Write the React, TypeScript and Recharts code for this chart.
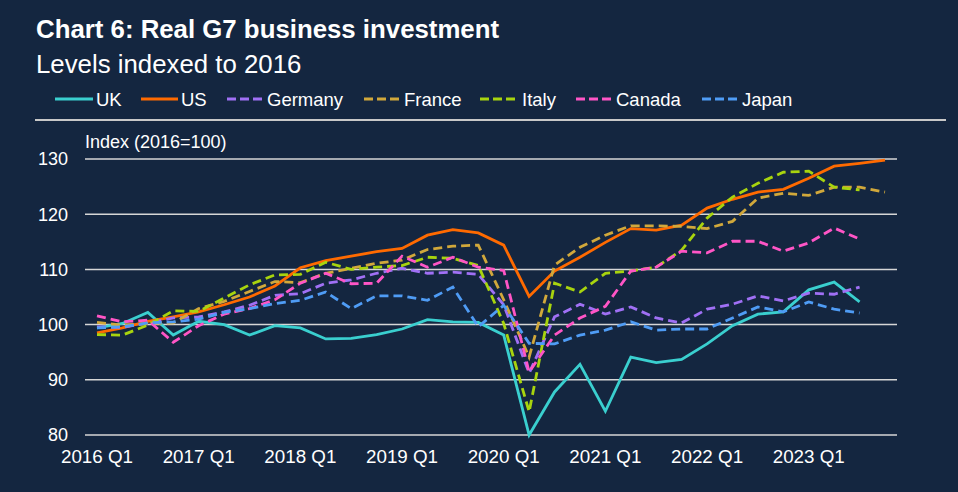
import React from "react";
import { LineChart, Line, XAxis, YAxis, CartesianGrid } from "recharts";

const quarters = [
  "2016 Q1", "2016 Q2", "2016 Q3", "2016 Q4",
  "2017 Q1", "2017 Q2", "2017 Q3", "2017 Q4",
  "2018 Q1", "2018 Q2", "2018 Q3", "2018 Q4",
  "2019 Q1", "2019 Q2", "2019 Q3", "2019 Q4",
  "2020 Q1", "2020 Q2", "2020 Q3", "2020 Q4",
  "2021 Q1", "2021 Q2", "2021 Q3", "2021 Q4",
  "2022 Q1", "2022 Q2", "2022 Q3", "2022 Q4",
  "2023 Q1", "2023 Q2", "2023 Q3", "2023 Q4",
];

const xTicks = ["2016 Q1", "2017 Q1", "2018 Q1", "2019 Q1", "2020 Q1", "2021 Q1", "2022 Q1", "2023 Q1"];
const yTicks = [80, 90, 100, 110, 120, 130];

const uk = [99.4, 100.2, 102.2, 98.1, 100.6, 100.0, 98.1, 99.8, 99.4, 97.4, 97.5, 98.2, 99.2, 100.9, 100.5, 100.4, 98.1, 80.0, 87.8, 92.8, 84.3, 94.1, 93.1, 93.7, 96.5, 99.8, 101.9, 102.3, 106.3, 107.7, 104.1, null];
const us = [98.5, 99.4, 100.6, 101.4, 102.3, 103.6, 105.0, 107.0, 110.3, 111.6, 112.4, 113.2, 113.8, 116.2, 117.2, 116.6, 114.4, 105.1, 109.7, 112.2, 114.9, 117.4, 117.1, 118.0, 121.1, 122.7, 124.0, 124.5, 126.5, 128.7, 129.2, 129.8];
const germany = [99.6, 99.5, 100.3, 101.2, 101.4, 102.3, 103.5, 105.3, 105.6, 107.5, 108.1, 109.3, 110.2, 109.3, 109.5, 109.1, 103.6, 91.2, 101.4, 103.7, 101.9, 103.2, 101.2, 100.3, 102.8, 103.7, 105.2, 104.3, 105.7, 105.5, 106.8, null];
const france = [100.4, 99.9, 100.2, 100.3, 102.9, 104.2, 106.0, 107.8, 107.6, 109.3, 110.2, 111.1, 111.7, 113.6, 114.2, 114.4, 104.5, 94.1, 110.8, 114.0, 116.2, 117.9, 117.9, 117.8, 117.4, 118.7, 122.9, 123.8, 123.4, 124.9, 124.9, 124.0];
const italy = [98.2, 98.1, 99.9, 102.5, 102.4, 104.8, 107.2, 109.0, 109.1, 111.3, 110.0, 110.4, 110.7, 112.2, 112.0, 110.7, 100.2, 84.2, 107.5, 105.9, 109.3, 109.7, 110.4, 113.5, 119.3, 123.1, 125.6, 127.6, 127.8, 124.9, 124.4, null];
const canada = [101.6, 100.5, 100.8, 96.8, 99.8, 101.9, 102.9, 104.5, 107.5, 109.3, 107.4, 107.5, 112.4, 110.4, 112.2, 110.4, 109.8, 91.4, 98.1, 101.2, 103.3, 109.7, 110.4, 113.3, 113.0, 115.1, 115.1, 113.3, 114.8, 117.5, 115.5, null];
const japan = [99.4, 99.6, 100.3, 100.5, 101.0, 102.2, 102.9, 103.8, 104.4, 105.9, 102.9, 105.2, 105.2, 104.4, 106.8, 99.6, 103.5, 96.6, 96.5, 98.1, 99.0, 100.5, 99.0, 99.2, 99.2, 101.2, 103.2, 102.3, 104.1, 102.8, 102.1, null];

const data = quarters.map((q, i) => ({
  q,
  UK: uk[i],
  US: us[i],
  Germany: germany[i],
  France: france[i],
  Italy: italy[i],
  Canada: canada[i],
  Japan: japan[i],
}));

const series = [
  { key: "UK", color: "#3ACFCF", dashed: false, lx: 55, lx2: 93, tx: 96 },
  { key: "US", color: "#FF6A00", dashed: false, lx: 141, lx2: 178, tx: 181 },
  { key: "Germany", color: "#A070F5", dashed: true, lx: 227, lx2: 262, tx: 267 },
  { key: "France", color: "#D1A83B", dashed: true, lx: 364, lx2: 399, tx: 404 },
  { key: "Italy", color: "#A8D40E", dashed: true, lx: 480, lx2: 518, tx: 522 },
  { key: "Canada", color: "#FF55C6", dashed: true, lx: 576, lx2: 611, tx: 616 },
  { key: "Japan", color: "#4F9CF5", dashed: true, lx: 702, lx2: 738, tx: 742 },
];

const BG = "#142640";
const FONT = "'Liberation Sans', Arial, sans-serif";

export default function App() {
  return (
    <div style={{ position: "relative", width: 958, height: 492, background: BG, fontFamily: FONT, overflow: "hidden" }}>
      <style>{`body{margin:0;background:${BG};}`}</style>
      <LineChart
        width={958}
        height={492}
        data={data}
        margin={{ top: 159, right: 11, bottom: 27, left: 25 }}
      >
        <CartesianGrid yAxisId="left" horizontal={true} vertical={false} stroke="#d6d6d6" strokeWidth={1.5} />
        <XAxis
          dataKey="q"
          ticks={xTicks}
          interval={0}
          axisLine={false}
          tickLine={false}
          tickSize={0}
          tickMargin={15}
          height={30}
          padding={{ left: 12, right: 12 }}
          tick={{ fill: "#ffffff", fontSize: 18.8, fontFamily: FONT }}
        />
        <YAxis
          yAxisId="left"
          domain={[80, 130]}
          ticks={yTicks}
          interval={0}
          axisLine={false}
          tickLine={false}
          tickSize={0}
          tickMargin={17}
          width={60}
          tick={{ fill: "#ffffff", fontSize: 18, fontFamily: FONT }}
        />
        <YAxis
          yAxisId="right"
          orientation="right"
          domain={[80, 130]}
          ticks={yTicks}
          interval={0}
          axisLine={false}
          tickLine={false}
          tickSize={0}
          tickMargin={17}
          width={50}
          tick={{ fill: "#ffffff", fontSize: 18, fontFamily: FONT }}
        />
        {series.map((s) => (
          <Line
            key={s.key}
            yAxisId="left"
            type="linear"
            dataKey={s.key}
            stroke={s.color}
            strokeWidth={2.8}
            strokeDasharray={s.dashed ? "9 5" : undefined}
            dot={false}
            activeDot={false}
            isAnimationActive={false}
          />
        ))}
      </LineChart>
      <svg
        width={958}
        height={160}
        style={{ position: "absolute", left: 0, top: 0, pointerEvents: "none" }}
        fontFamily={FONT}
      >
        <text x={36} y={38} fill="#ffffff" fontSize={25.8} fontWeight="bold">
          Chart 6: Real G7 business investment
        </text>
        <text x={36} y={73} fill="#ffffff" fontSize={25.8}>
          Levels indexed to 2016
        </text>
        {series.map((s) => (
          <g key={s.key}>
            <line
              x1={s.lx}
              x2={s.lx2}
              y1={99}
              y2={99}
              stroke={s.color}
              strokeWidth={3}
              strokeDasharray={s.dashed ? "9 4" : undefined}
            />
            <text x={s.tx} y={106} fill="#ffffff" fontSize={18.5}>
              {s.key}
            </text>
          </g>
        ))}
        <line x1={35} x2={946} y1={120} y2={120} stroke="#c8c8c8" strokeWidth={1.8} />
        <text x={85} y={148} fill="#ffffff" fontSize={18}>
          Index (2016=100)
        </text>
      </svg>
    </div>
  );
}
